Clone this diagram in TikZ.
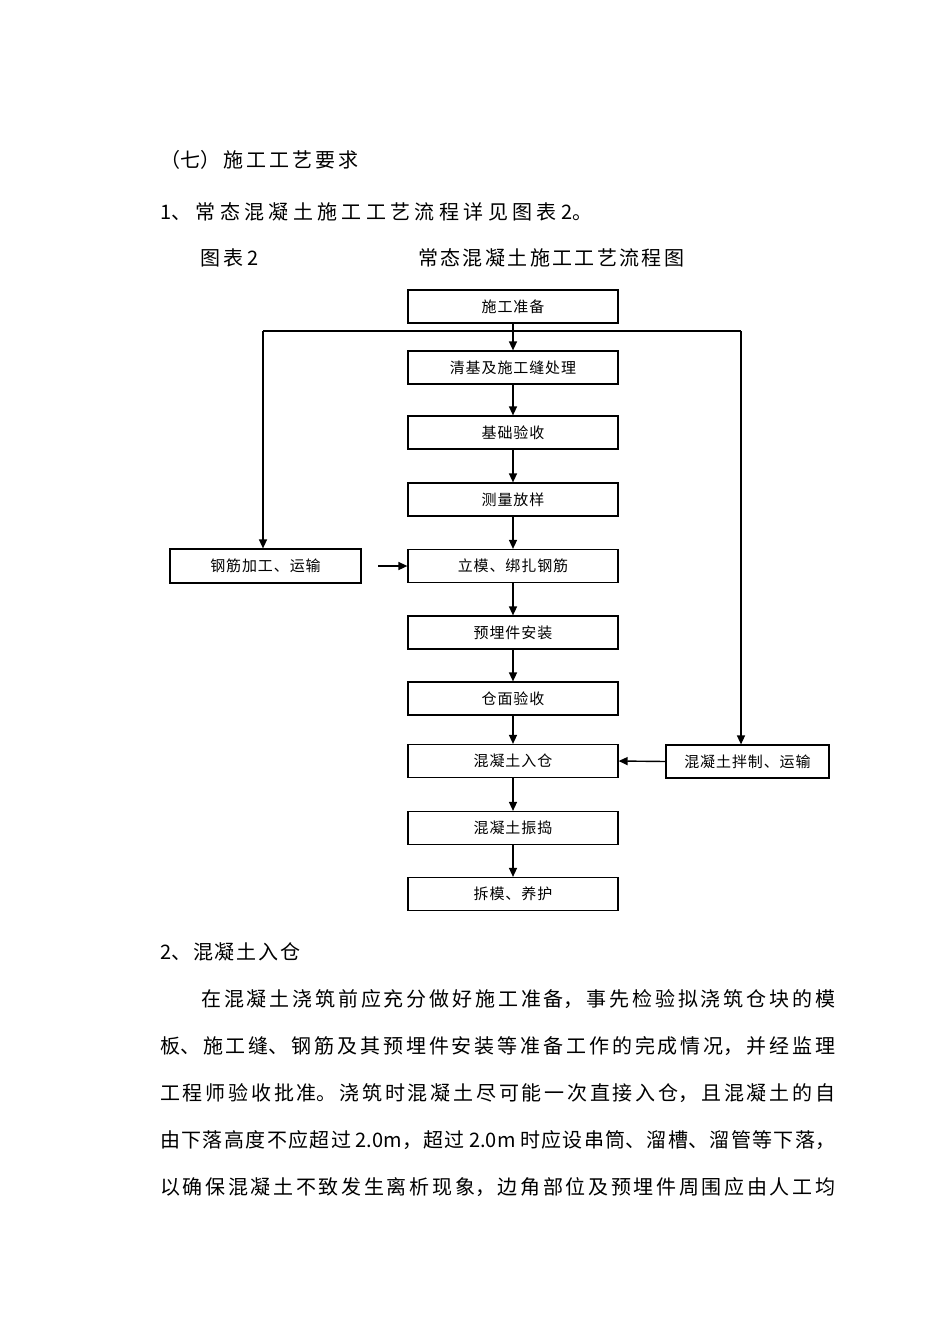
\documentclass[tikz,border=0pt]{standalone}
\usepackage{fontspec}
\usetikzlibrary{arrows.meta}
\newfontfamily\cjk{Noto Sans CJK SC}
\newfontfamily\cjkbox[LetterSpace=6]{Noto Sans CJK SC}
\newcommand\fitline[2]{\parbox{#1}{\tolerance=10000\XeTeXlinebreaklocale "zh"\XeTeXlinebreakskip=0pt plus 1fil\parfillskip=0pt\relax #2}}
\tikzset{
  flowbox/.style={draw, line width=1.2pt, minimum width=210pt, minimum height=33pt, inner sep=0pt, font=\cjkbox\fontsize{15}{15}\selectfont},
  bodytext/.style={anchor=west, inner sep=0pt, font=\cjk\fontsize{20}{20}\selectfont},
  conn/.style={line width=1.4pt},
  arr/.style={line width=1.4pt, -{Triangle[length=9pt,width=8pt]}}
}
\begin{document}
\begin{tikzpicture}[x=1pt,y=-1pt]
\useasboundingbox[fill=white] (0,0) rectangle (950,1344);
% headings
\node[bodytext] (h1) at (160,160) {\fitline{198pt}{（七）施工工艺要求}};
\node[bodytext] (h2) at (160,212) {\fitline{432pt}{1、常态混凝土施工工艺流程详见图表2。}};
\node[bodytext] (c1) at (200,258) {\fitline{58pt}{图表2}};
\node[bodytext] (c2) at (418,258) {\fitline{266pt}{常态混凝土施工工艺流程图}};
% flow boxes
\node[flowbox] (p1) at (513,306.5) {施工准备};
\node[flowbox] (p2) at (513,367.5) {清基及施工缝处理};
\node[flowbox] (p3) at (513,432.5) {基础验收};
\node[flowbox] (p4) at (513,499.5) {测量放样};
\node[flowbox] (p5) at (513,566) {立模、绑扎钢筋};
\node[flowbox] (p6) at (513,632.5) {预埋件安装};
\node[flowbox] (p7) at (513,698.5) {仓面验收};
\node[flowbox] (p8) at (513,761) {混凝土入仓};
\node[flowbox] (p9) at (513,828) {混凝土振捣};
\node[flowbox] (p10) at (513,894) {拆模、养护};
\node[flowbox, minimum width=191pt, minimum height=34pt] (L) at (265.5,566) {钢筋加工、运输};
\node[flowbox, minimum width=163pt] (R) at (747.5,761.5) {混凝土拌制、运输};
% connectors
\coordinate (hl) at (263,331);
\coordinate (hr) at (741,331);
\coordinate (la) at (378,566);
\draw[arr] (p1.south) -- (p2.north);
\draw[conn] (hl) -- (hr);
\draw[arr] (hl) -- (hl |- L.north);
\draw[arr] (hr) -- (hr |- R.north);
\draw[arr] (p2) -- (p3);
\draw[arr] (p3) -- (p4);
\draw[arr] (p4) -- (p5);
\draw[arr] (la) -- (p5.west);
\draw[arr] (p5) -- (p6);
\draw[arr] (p6) -- (p7);
\draw[arr] (p7) -- (p8);
\draw[arr] (R.west) -- (p8.east);
\draw[arr] (p8) -- (p9);
\draw[arr] (p9) -- (p10);
% body text
\node[bodytext] (t1) at (160,952) {\fitline{140pt}{2、混凝土入仓}};
\node[bodytext] (t2) at (201,999) {\fitline{634pt}{在混凝土浇筑前应充分做好施工准备，事先检验拟浇筑仓块的模}};
\node[bodytext] (t3) at (160,1046) {\fitline{675pt}{板、施工缝、钢筋及其预埋件安装等准备工作的完成情况，并经监理}};
\node[bodytext] (t4) at (160,1093) {\fitline{675pt}{工程师验收批准。浇筑时混凝土尽可能一次直接入仓，且混凝土的自}};
\node[bodytext] (t5) at (160,1140) {\fitline{675pt}{由下落高度不应超过 2.0m，超过 2.0m 时应设串筒、溜槽、溜管等下落，}};
\node[bodytext] (t6) at (160,1187) {\fitline{675pt}{以确保混凝土不致发生离析现象，边角部位及预埋件周围应由人工均}};
\end{tikzpicture}
\end{document}
